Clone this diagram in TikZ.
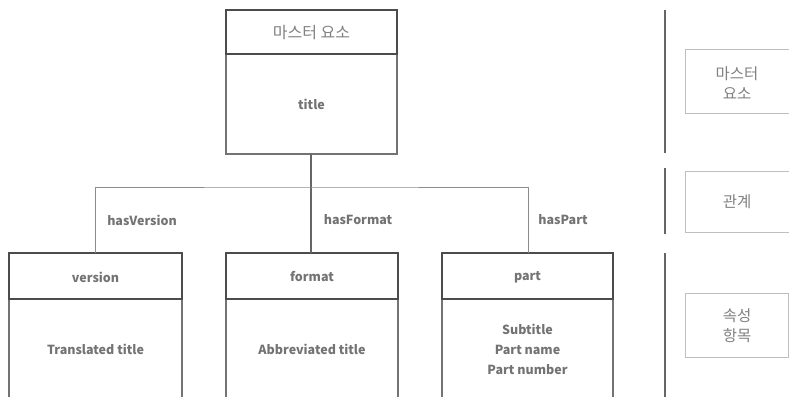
\documentclass[tikz,border=0pt]{standalone}
\usepackage{fontspec}
\setmainfont{Noto Sans CJK KR}
\begin{document}
\begin{tikzpicture}[x=1pt,y=-1pt,
  hdr/.style={draw=black!70,line width=1.6pt},
  body/.style={draw=black!55,line width=1.1pt},
  conn/.style={draw=black!45,line width=0.8pt},
  mainconn/.style={draw=black!60,line width=1.2pt},
  bar/.style={draw=black!60,line width=2.2pt},
  side/.style={draw=black!25,line width=1pt},
  txt/.style={text=black!55,font=\fontsize{12.5}{20}\selectfont\bfseries,align=center},
  ktxt/.style={text=black!50,font=\fontsize{16}{20}\selectfont,align=center},
  stxt/.style={text=black!50,font=\fontsize{15.5}{20}\selectfont,align=center}]
\useasboundingbox (0,0) rectangle (789,396);
\clip (0,0) rectangle (789,396);
% master box
\draw[body] (226,54) rectangle (397,154);
\draw[hdr] (226,10) rectangle (397,54);
\node[ktxt] (mh) at (311.5,33) {마스터 요소};
\node[txt] (mb) at (311.5,104) {title};
\coordinate (mbot) at (311,154);
% child boxes
\draw[body] (9,299) rectangle (182,410);
\draw[hdr] (9,253) rectangle (182,299);
\node[txt] (vh) at (95.5,277) {version};
\node[txt] (vb) at (95.5,349) {Translated title};
\coordinate (vtop) at (95,253);
\draw[body] (226,299) rectangle (398,410);
\draw[hdr] (226,253) rectangle (398,299);
\node[txt] (fh) at (312,277) {format};
\node[txt] (fb) at (312,349) {Abbreviated title};
\coordinate (ftop) at (311,253);
\draw[body] (442,299) rectangle (613,410);
\draw[hdr] (442,253) rectangle (613,299);
\node[txt] (ph) at (527.5,277) {part};
\node[txt] (pb) at (527.5,349) {Subtitle\\Part name\\Part number};
\coordinate (ptop) at (528,253);
% connectors
\coordinate (hj) at (311,187);
\draw[mainconn] (mbot) -- (ftop);
\draw[conn] (vtop) |- (hj) -| (ptop);
\node[txt] (l1) at (142,220) {hasVersion};
\node[txt] (l2) at (358,220) {hasFormat};
\node[txt] (l3) at (563,220) {hasPart};
% right side
\draw[bar] (665,10) -- (665,153);
\draw[bar] (665,168) -- (665,234);
\draw[bar] (665,253) -- (665,400);
\draw[side] (685,50) rectangle (789,113);
\draw[side] (685,171) rectangle (789,232);
\draw[side] (685,293) rectangle (788,357);
\node[stxt] (s1) at (737,83) {마스터\\요소};
\node[stxt] (s2) at (737,202) {관계};
\node[stxt] (s3) at (737,326) {속성\\항목};
\end{tikzpicture}
\end{document}
